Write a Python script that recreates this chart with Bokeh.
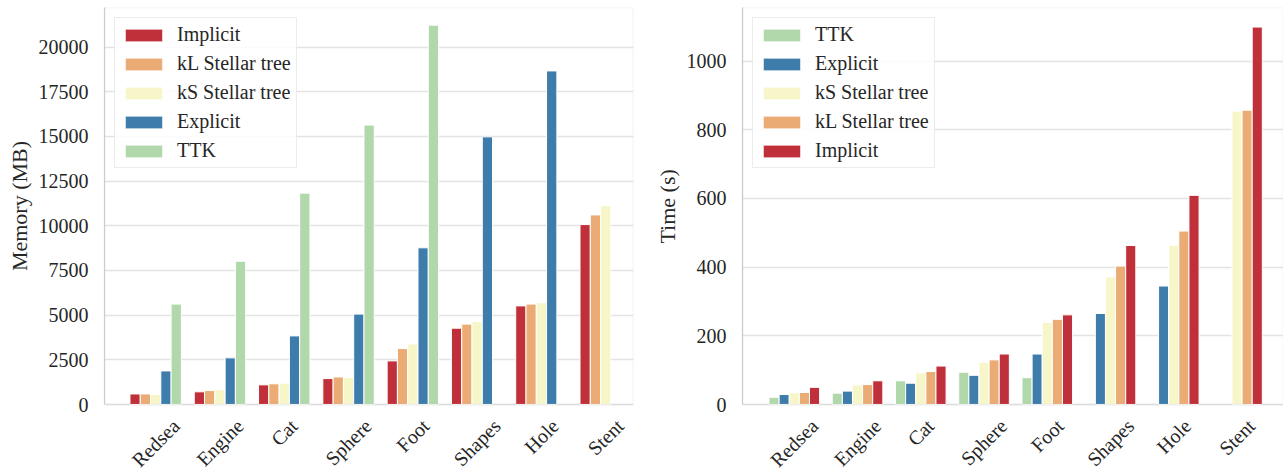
import math
from bokeh.plotting import figure
from bokeh.models import (ColumnDataSource, Range1d, FixedTicker, LabelSet, BoxAnnotation, Title)
from bokeh.layouts import row
from bokeh.core.properties import value
from bokeh.embed import file_html
from bokeh.resources import INLINE

NaN = float("nan")

categories = ["Redsea", "Engine", "Cat", "Sphere", "Foot", "Shapes", "Hole", "Stent"]

# Left chart: memory (MB)
mem_names = ["Implicit", "kL Stellar tree", "kS Stellar tree", "Explicit", "TTK"]
mem_implicit = [590, 710, 1100, 1450, 2440, 4270, 5520, 10070]
mem_kl = [590, 780, 1160, 1540, 3130, 4500, 5620, 10610]
mem_ks = [560, 830, 1190, 1510, 3390, 4640, 5700, 11120]
mem_explicit = [1880, 2610, 3840, 5060, 8770, 14980, 18670, NaN]
mem_ttk = [5620, 8020, 11830, 15640, 21230, NaN, NaN, NaN]

# Right chart: time (s)
time_names = ["TTK", "Explicit", "kS Stellar tree", "kL Stellar tree", "Implicit"]
time_ttk = [21, 33, 69, 94, 78, NaN, NaN, NaN]
time_explicit = [29, 39, 62, 85, 147, 265, 345, NaN]
time_ks = [34, 57, 92, 123, 239, 371, 464, 854]
time_kl = [35, 58, 96, 130, 248, 403, 505, 857]
time_implicit = [50, 69, 112, 147, 261, 463, 609, 1099]

RED = "#c0303a"
ORANGE = "#eaac74"
YELLOW = "#f7f6c9"
BLUE = "#3e7dab"
GREEN = "#b1d8ab"

FONT = "Liberation Serif"
TEXT = "#262626"
SPINE = "#cccccc"

# approximate Times glyph widths (per 1000 em), used to centre texts
TIMES_W = {'R': 667, 'e': 444, 'd': 500, 's': 389, 'a': 444, 'E': 611, 'n': 500,
           'g': 500, 'i': 278, 'C': 667, 't': 278, 'S': 556, 'p': 500, 'h': 500,
           'r': 333, 'F': 556, 'o': 500, 'H': 722, 'l': 278, 'M': 889, 'm': 778,
           'y': 500, ' ': 250, '(': 333, ')': 333, 'B': 667, 'T': 611}


def text_width(s, size):
    return sum(TIMES_W.get(ch, 500) for ch in s) * size / 1000


HEIGHT = 468      # figure height
TOP = 7           # border above the plot area
AXES_H = 397      # height of the value area (0 .. y_end)
BELOW = HEIGHT - TOP - AXES_H   # room for the category labels, kept inside the frame


def make_chart(names, series, colors, ylabel, y_end, interval, x_start, x_end,
               width, border_left, border_right):
    y_start = -BELOW * y_end / AXES_H
    p = figure(width=width, height=HEIGHT, output_backend="svg", toolbar_location=None,
               x_range=Range1d(x_start, x_end), y_range=Range1d(y_start, y_end),
               min_border_left=border_left, min_border_right=border_right,
               min_border_top=TOP, min_border_bottom=0)
    p.outline_line_color = None
    p.background_fill_color = "white"
    p.border_fill_color = "white"

    n = len(series)
    bw = 0.8 / n
    for k, (name, vals, col) in enumerate(zip(names, series, colors)):
        off = (k - (n - 1) / 2) * bw
        src = ColumnDataSource(dict(x=[i + off for i in range(len(categories))], top=vals))
        p.vbar(x="x", top="top", bottom=0, width=bw, source=src, fill_color=col,
               line_color="white", line_width=1, legend_label=name)

    # axes box (spines) around the value area only
    p.add_layout(BoxAnnotation(left=x_start, right=x_end, bottom=0, top=y_end,
                               fill_alpha=0, line_color=SPINE, line_width=1.6))

    p.xaxis.visible = False
    p.xgrid.visible = False
    yticks = list(range(0, int(y_end) + 1, interval))
    p.ygrid.ticker = FixedTicker(ticks=yticks)
    p.ygrid.grid_line_color = "#e3e3e3"
    p.ygrid.grid_line_width = 1.5

    ya = p.yaxis[0]
    ya.ticker = FixedTicker(ticks=yticks)
    ya.bounds = (0, y_end)
    ya.axis_line_color = SPINE
    ya.axis_line_width = 1.2
    ya.major_tick_line_color = None
    ya.minor_tick_line_color = None
    ya.major_label_text_font = FONT
    ya.major_label_text_font_size = "20px"
    ya.major_label_text_color = TEXT
    ya.major_label_standoff = 10

    # y-axis title, centred on the value area (the frame extends below it)
    off_title = HEIGHT - TOP - AXES_H / 2 - text_width(ylabel, 22) / 2
    p.add_layout(Title(text=ylabel, align="left", offset=off_title, standoff=8,
                       text_font=FONT, text_font_size="22px", text_font_style="normal",
                       text_color=TEXT), "left")

    # rotated category labels, centred under each group (matplotlib style)
    yoffs = [-(11 + (text_width(c, 20) + 20) * 0.7071 / 2) for c in categories]
    lsrc = ColumnDataSource(dict(x=list(range(len(categories))), y=[0] * len(categories),
                                 text=categories, yoff=yoffs))
    p.add_layout(LabelSet(x="x", y="y", text="text", y_offset="yoff", source=lsrc,
                          angle=math.pi / 4, text_align="center", text_baseline="middle",
                          text_font=value(FONT), text_font_size="20px", text_color=TEXT))

    lg = p.legend[0]
    lg.location = "top_left"
    lg.margin = 10
    lg.padding = 5
    lg.spacing = 6
    lg.glyph_width = 47
    lg.glyph_height = 16
    lg.label_standoff = 10
    lg.label_text_font = FONT
    lg.label_text_font_size = "20px"
    lg.label_text_color = TEXT
    lg.border_line_color = "#d9d9d9"
    lg.border_line_width = 1
    lg.background_fill_alpha = 0.85
    return p


p1 = make_chart(mem_names, [mem_implicit, mem_kl, mem_ks, mem_explicit, mem_ttk],
                [RED, ORANGE, YELLOW, BLUE, GREEN], "Memory (MB)", 22220, 2500,
                -0.796, 7.432, 640, 102, 7)
p2 = make_chart(time_names, [time_ttk, time_explicit, time_ks, time_kl, time_implicit],
                [GREEN, BLUE, YELLOW, ORANGE, RED], "Time (s)", 1156, 200,
                -0.819, 7.735, 643, 102, 0)

layout = row(p1, p2)
open("out.html", "w").write(file_html(layout, INLINE))
